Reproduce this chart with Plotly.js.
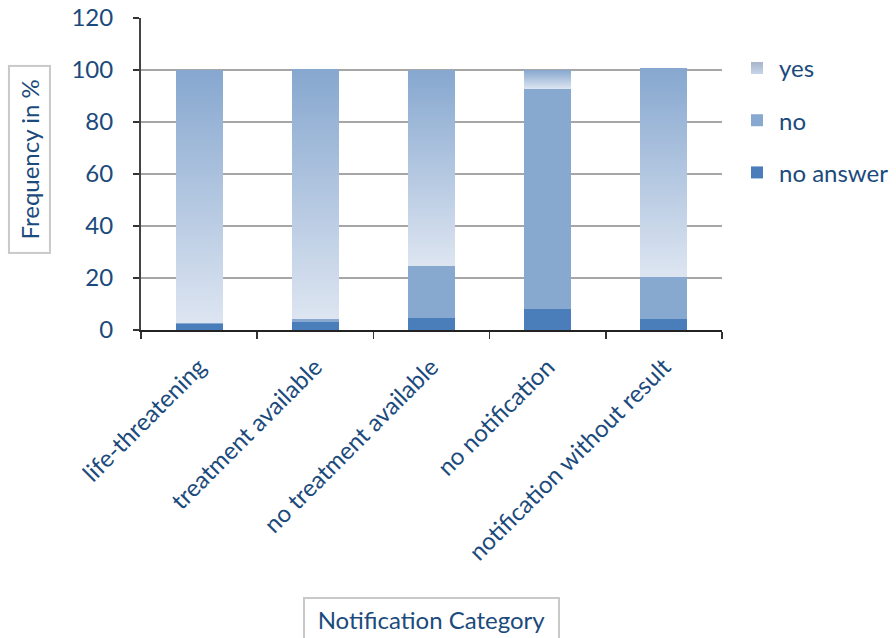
<!DOCTYPE html>
<html>
<head>
<meta charset="utf-8">
<script src="https://cdn.plot.ly/plotly-3.0.1.min.js"></script>
<style>
  html, body { margin: 0; padding: 0; background: #ffffff; }
  #chart { width: 896px; height: 638px; }
</style>
</head>
<body>
<div id="chart"></div>
<script>
// Share of answers per notification category (percent)
const categories = [
  'life-threatening',
  'treatment available',
  'no treatment available',
  'no notification',
  'notification without result'
];
const noAnswer = [2.2, 3.1, 4.7, 8.1, 4.2];
const no       = [0.5, 1.1, 20.0, 84.6, 16.3];
const yes      = [97.3, 96.2, 75.3, 7.3, 80.4];
const yTicks   = [0, 20, 40, 60, 80, 100, 120];

const textColor = '#1b4a7c';
const fontFamily = 'Lato, "Open Sans", sans-serif';
const fontSize = 24;

const traces = [
  { name: 'no answer', y: noAnswer, color: '#4a7ebb', group: 'a', rank: 3 },
  { name: 'no',        y: no,       color: '#87a8cf', group: 'b', rank: 2 },
  { name: 'yes',       y: yes,      color: '#b9cbe3', group: 'c', rank: 1 }
].map(s => ({
  type: 'bar',
  x: categories,
  y: s.y,
  name: s.name,
  legendgroup: s.group,
  legendrank: s.rank,
  marker: { color: s.color, line: { width: 0 } },
  hoverinfo: 'skip'
}));

const layout = {
  width: 896,
  height: 638,
  margin: { l: 141, r: 174, t: 18, b: 308, autoexpand: false },
  paper_bgcolor: '#ffffff',
  plot_bgcolor: '#ffffff',
  barmode: 'stack',
  bargap: 0.595,
  font: { family: fontFamily, size: fontSize, color: textColor },
  showlegend: true,
  legend: {
    xref: 'container', yref: 'container',
    x: 0.8203, xanchor: 'left',
    y: 0.928, yanchor: 'top',
    traceorder: 'grouped',
    tracegroupgap: 18,
    font: { family: fontFamily, size: fontSize, color: textColor },
    itemwidth: 34,
    bgcolor: 'rgba(0,0,0,0)'
  },
  xaxis: {
    type: 'category',
    tickangle: -45,
    ticks: 'outside',
    tickson: 'boundaries',
    ticklen: 7,
    tickwidth: 1.5,
    tickcolor: '#333333',
    showline: true,
    linecolor: '#222222',
    linewidth: 1.5,
    showgrid: false,
    ticklabelstandoff: 12,
    tickfont: { family: fontFamily, size: fontSize, color: textColor },
    automargin: false
  },
  yaxis: {
    range: [0, 120],
    tickvals: yTicks,
    ticktext: yTicks.map(String),
    ticks: 'outside',
    ticklen: 6,
    tickwidth: 1.5,
    tickcolor: '#333333',
    showline: true,
    linecolor: '#444444',
    linewidth: 2,
    showgrid: true,
    gridcolor: '#a6a6a6',
    gridwidth: 1.5,
    zeroline: false,
    ticklabelstandoff: 15,
    tickfont: { family: fontFamily, size: fontSize, color: textColor },
    automargin: false
  },
  annotations: [
    {
      text: 'Frequency in %',
      xref: 'paper', yref: 'paper',
      x: -0.192, y: 0.5465,
      xanchor: 'center', yanchor: 'middle',
      textangle: -90,
      showarrow: false,
      width: 185, height: 39,
      borderpad: 0,
      bordercolor: '#c9c9c9', borderwidth: 2,
      font: { family: fontFamily, size: fontSize, color: textColor }
    },
    {
      text: 'Notification Category',
      xref: 'paper', yref: 'paper',
      x: 0.5, y: -0.926,
      xanchor: 'center', yanchor: 'middle',
      showarrow: false,
      width: 253, height: 40,
      borderpad: 0,
      bordercolor: '#c9c9c9', borderwidth: 2,
      font: { family: fontFamily, size: fontSize, color: textColor }
    }
  ]
};

const gd = document.getElementById('chart');

// Vertical gradient for the "yes" segments: deeper blue at the top, pale at the bottom
function applyYesGradient() {
  const svg = gd.querySelector('svg.main-svg');
  const ns = 'http://www.w3.org/2000/svg';
  let defs = svg.querySelector('defs');
  if (!defs) { defs = document.createElementNS(ns, 'defs'); svg.insertBefore(defs, svg.firstChild); }

  function addGradient(id, top, bottom) {
    const g = document.createElementNS(ns, 'linearGradient');
    g.setAttribute('id', id);
    g.setAttribute('x1', '0'); g.setAttribute('y1', '0');
    g.setAttribute('x2', '0'); g.setAttribute('y2', '1');
    [[0, top], [1, bottom]].forEach(([o, c]) => {
      const s = document.createElementNS(ns, 'stop');
      s.setAttribute('offset', o);
      s.setAttribute('stop-color', c);
      g.appendChild(s);
    });
    defs.appendChild(g);
  }
  addGradient('yesGrad', '#86a7cf', '#dde5f1');
  addGradient('yesLegendGrad', '#a7b4c8', '#c6d5ea');

  const barTraces = gd.querySelectorAll('.barlayer .trace.bars');
  const yesLayer = barTraces[2];
  if (yesLayer) {
    yesLayer.querySelectorAll('path').forEach(p => { p.style.fill = 'url(#yesGrad)'; });
  }
  gd.querySelectorAll('.legend .traces').forEach(t => {
    const label = t.querySelector('.legendtext');
    if (label && label.textContent === 'yes') {
      t.querySelectorAll('.legendpoints path').forEach(p => { p.style.fill = 'url(#yesLegendGrad)'; });
    }
  });
}

Plotly.newPlot(gd, traces, layout, { staticPlot: true, displayModeBar: false })
  .then(applyYesGradient);
</script>
</body>
</html>
